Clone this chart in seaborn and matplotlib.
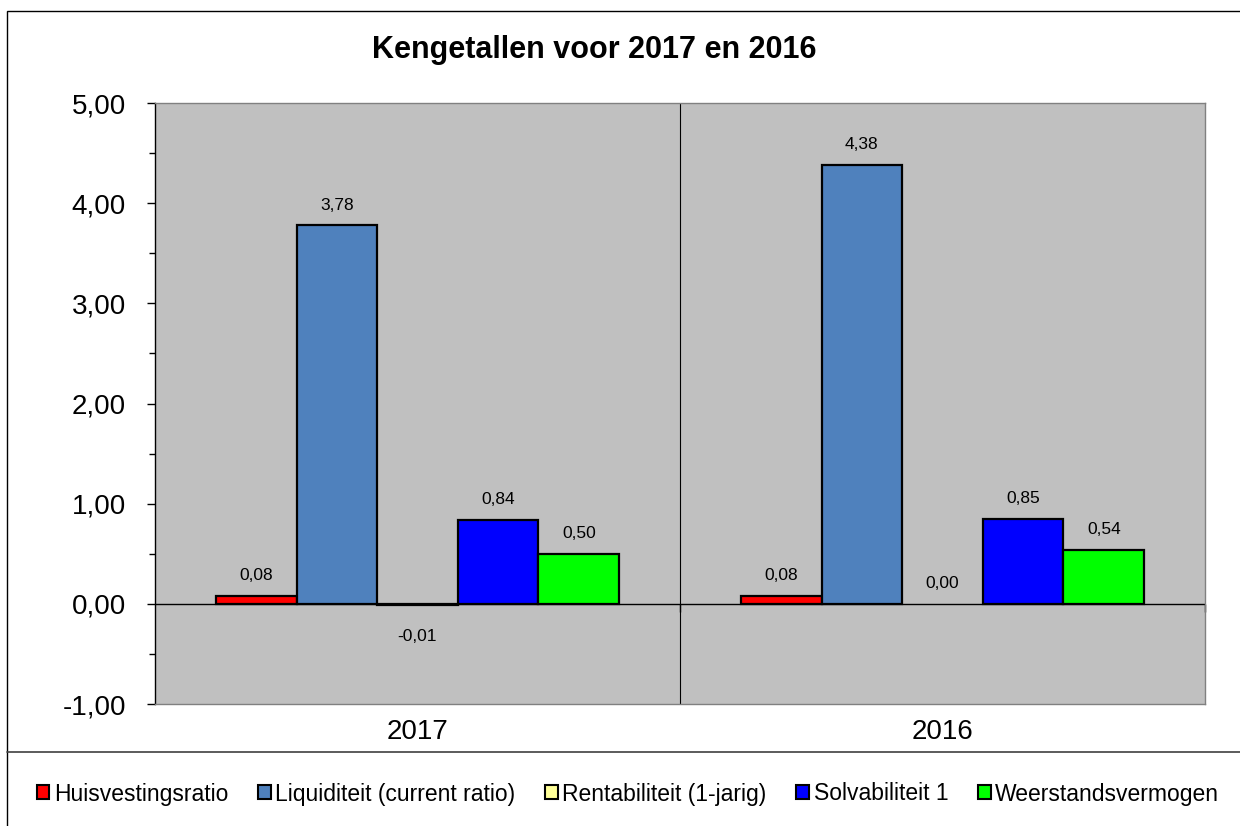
import pandas as pd
import matplotlib.pyplot as plt
from matplotlib.patches import Rectangle
from matplotlib.lines import Line2D
from matplotlib.ticker import MultipleLocator, FuncFormatter
import seaborn as sns

# Chart data
years = ["2017", "2016"]
series = ["Huisvestingsratio", "Liquiditeit (current ratio)", "Rentabiliteit (1-jarig)",
          "Solvabiliteit 1", "Weerstandsvermogen"]
values_2017 = [0.08, 3.78, -0.01, 0.84, 0.50]
values_2016 = [0.08, 4.38, 0.00, 0.85, 0.54]
colors = ["#FF0000", "#4F81BD", "#FFFF99", "#0000FF", "#00FF00"]

rows = []
for year, vals in zip(years, [values_2017, values_2016]):
    for name, v in zip(series, vals):
        rows.append({"Jaar": year, "Kengetal": name, "Waarde": v})
df = pd.DataFrame(rows)

sns.set_style("white")
plt.rcParams["font.family"] = ["Liberation Sans", "DejaVu Sans"]
plt.rcParams["text.color"] = "black"
plt.rcParams["xtick.color"] = "black"
plt.rcParams["ytick.color"] = "black"

fig = plt.figure(figsize=(12.4, 8.26), dpi=100)
ax = fig.add_axes([155 / 1240, 122 / 826, 1050 / 1240, 601 / 826])
ax.set_facecolor("#C0C0C0")

sns.barplot(data=df, x="Jaar", y="Waarde", hue="Kengetal", order=years, hue_order=series,
            palette=colors, width=0.768, edgecolor="black", linewidth=1.6,
            saturation=1, ax=ax, zorder=3)

handles, labels = ax.get_legend_handles_labels()
ax.get_legend().remove()

# value labels
fmt = lambda v: f"{v:.2f}".replace(".", ",")
for cont in ax.containers:
    for bar, v in zip(cont, cont.datavalues):
        x = bar.get_x() + bar.get_width() / 2
        if v == 0:
            bar.set_linewidth(0)
        if v < 0:
            ax.annotate(fmt(v), (x, v), xytext=(0, -23), textcoords="offset points",
                        ha="center", va="center", fontsize=12.5, zorder=5)
        else:
            ax.annotate(fmt(v), (x, v), xytext=(0, 14.5), textcoords="offset points",
                        ha="center", va="center", fontsize=12.5, zorder=5)

ax.set_ylim(-1, 5)
ax.set_xlim(-0.5, 1.5)
ax.yaxis.set_major_locator(MultipleLocator(1))
ax.yaxis.set_minor_locator(MultipleLocator(0.5))
ax.yaxis.set_major_formatter(FuncFormatter(lambda v, p: f"{v:.2f}".replace(".", ",")))
ax.tick_params(axis="y", which="major", left=True, length=6, width=1, labelsize=20, pad=15)
ax.tick_params(axis="y", which="minor", left=True, length=4, width=1)
ax.tick_params(axis="x", length=0, labelsize=20, pad=11)
ax.set_xlabel("")
ax.set_ylabel("")

for s in ["top", "right", "bottom"]:
    ax.spines[s].set_color("#808080")
    ax.spines[s].set_linewidth(1)
ax.spines["left"].set_color("black")
ax.spines["left"].set_linewidth(1)

ax.axhline(0, color="black", linewidth=1, zorder=2)
ax.axvline(0.5, color="black", linewidth=0.8, zorder=2)
sec = ax.secondary_xaxis(1 / 6)
sec.set_xticks([0.5, 1.5])
sec.set_xticklabels(["", ""])
sec.tick_params(length=6, width=1, direction="out")
sec.spines["bottom"].set_visible(False)

fig.text(594 / 1240, 1 - 50 / 826, "Kengetallen voor 2017 en 2016", ha="center", va="center",
         fontsize=22, fontweight="bold")

# outer frame and legend separator
fig.patches.append(Rectangle((7 / 1240, -0.01), 1.05, 1 - 11 / 826 + 0.01, transform=fig.transFigure,
                             fill=False, edgecolor="black", linewidth=1))
fig.lines.append(Line2D([7 / 1240, 1], [1 - 752 / 826] * 2, transform=fig.transFigure,
                        color="#404040", linewidth=1.2))

leg = fig.legend(handles, labels, loc="center", bbox_to_anchor=(628 / 1240, 1 - 794 / 826), ncol=5,
                 frameon=False, fontsize=16.5, handlelength=0.55, handleheight=0.55,
                 handletextpad=0.2, columnspacing=1.3)
for h in leg.legend_handles:
    h.set_edgecolor("black")
    h.set_linewidth(1.5)

fig.savefig("out.png", dpi=100)
